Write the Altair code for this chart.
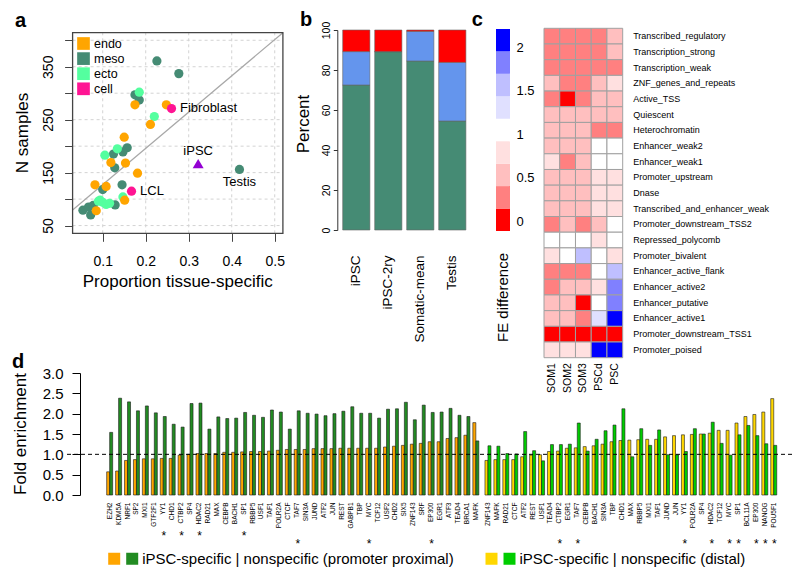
import json
import altair as alt
import pandas as pd

W, H = 784, 562
FONT = "Liberation Sans"

# ---------------- panel a data ----------------
A_X_DOMAIN = [0.03, 0.519]
A_Y_DOMAIN = [35.4, 414.3]
A_X_TICKS = [0.1, 0.2, 0.3, 0.4, 0.5]
A_Y_TICKS = [50, 100, 150, 200, 250, 300, 350, 400]
A_Y_SHOWN = [50, 150, 250, 350]
GROUPS = ["endo", "meso", "ecto", "cell"]
GROUP_COLORS = ["#FFA500", "#458B74", "#54FF9F", "#FF1493"]
MESO_X = [0.226, 0.277, 0.175, 0.185, 0.125, 0.157, 0.147, 0.128, 0.418, 0.100, 0.145, 0.129, 0.054, 0.072, 0.067, 0.078]
MESO_Y = [361, 337, 297, 287, 185, 197, 189, 159, 156, 118, 127, 89, 79, 70, 85, 88]
ECTO_X = [0.185, 0.220, 0.134, 0.105, 0.094, 0.108, 0.100, 0.147, 0.090, 0.116]
ECTO_Y = [302, 256, 195, 183, 98, 90, 94, 104, 96, 92]
ENDO_X = [0.248, 0.175, 0.211, 0.150, 0.119, 0.153, 0.181, 0.082, 0.108, 0.151, 0.085]
ENDO_Y = [278, 278, 241, 217, 169, 168, 149, 127, 124, 98, 78]
CELL_X = [0.260, 0.167]
CELL_Y = [271, 115]
IPSC_X = [0.322]
IPSC_Y = [167]
LABEL_RIGHT = ["Fibroblast", "LCL"]
LABEL_RIGHT_X = [0.260, 0.167]
LABEL_RIGHT_Y = [271, 115]
DIAG_INTERCEPT = 58.8
DIAG_SLOPE = 685.0

# ---------------- panel b data ----------------
B_SAMPLES = ["iPSC", "iPSC-2ry", "Somatic-mean", "Testis"]
B_PARTS = ["part1", "part2", "part3"]
B_COLORS = ["#458B74", "#6495ED", "#FF0000"]
B_PART1 = [72.5, 89.2, 84.5, 54.5]
B_PART2 = [16.7, 0.0, 14.8, 29.3]
B_PART3 = [10.8, 10.8, 0.7, 16.2]

# ---------------- panel c data ----------------
HEAT_ROWS = ["Transcribed_regulatory", "Transcription_strong", "Transcription_weak",
             "ZNF_genes_and_repeats", "Active_TSS", "Quiescent", "Heterochromatin",
             "Enhancer_weak2", "Enhancer_weak1", "Promoter_upstream", "Dnase",
             "Transcribed_and_enhancer_weak", "Promoter_downstream_TSS2", "Repressed_polycomb",
             "Promoter_bivalent", "Enhancer_active_flank", "Enhancer_active2", "Enhancer_putative",
             "Enhancer_active1", "Promoter_downstream_TSS1", "Promoter_poised"]
HEAT_COLS = ["SOM1", "SOM2", "SOM3", "PSCd", "PSC"]
SOM1 = [.25, .25, .25, .5, .25, .5, .5, .5, .75, .5, .5, .5, .25, 1, .75, .25, .25, .5, .5, 0, .75]
SOM2 = [.25, .25, .25, .25, 0, .5, .5, .5, .25, .5, .5, .5, .5, 1, 1, .25, .5, .5, .5, 0, .75]
SOM3 = [.25, .25, .25, .25, .25, .5, .5, .5, .5, .5, .5, .5, .25, 1, 1.5, .25, .5, 0, .25, 0, .75]
PSCD = [.25, .25, .25, .5, .5, .5, .25, 1, 1, .75, .75, .75, .5, .75, 1, 1, .75, 1, 1.25, 0, 2]
PSC = [.5, .5, .25, .75, .5, .5, .25, 1, 1, .75, .75, .75, 1, 1, .75, 1.5, 1.75, 1.75, 2, 0, 2]
HEAT_THRESH = [0.125, 0.375, 0.625, 0.875, 1.125, 1.375, 1.625, 1.875]
HEAT_COLORS = ["#FF0000", "#FF8080", "#FFBFBF", "#FFE0E0", "#FFFFFF",
               "#E0E0FF", "#BFBFFF", "#8080FF", "#0000FF"]
LEG_EDGES = [-0.115, 0.144, 0.403, 0.662, 0.921, 1.18, 1.439, 1.698, 1.957, 2.215]
LEG_LEVELS = [0, 0.25, 0.5, 0.75, 1, 1.25, 1.5, 1.75, 2]
LEG_TICKS = [0, 0.5, 1, 1.5, 2]

# ---------------- panel d data ----------------
PROX_TF = ["EZH2", "KDM5A", "NRF1", "SP2", "MXI1", "GTF2F1", "YY1", "CHD1", "CTBP2", "SP4",
           "HDAC2", "RAD21", "MAX", "CEBPB", "BACH1", "SP1", "RBBP5", "USF1", "TAF1", "POLR2A",
           "CTCF", "TAF7", "SIN3A", "JUND", "ATF2", "JUN", "REST", "GABPB1", "TBP", "MYC",
           "TCF12", "USF2", "CHD2", "SIX5", "ZNF143", "SRF", "EP300", "EGR1", "ATF3", "TEAD4",
           "BRCA1", "MAFK"]
PROX_SPEC = [0.57, 0.59, 0.85, 0.87, 0.89, 0.89, 0.90, 0.90, 0.98, 1.00, 1.02, 1.02, 1.02, 1.05,
             1.05, 1.06, 1.07, 1.07, 1.08, 1.10, 1.12, 1.12, 1.12, 1.14, 1.14, 1.14, 1.15, 1.15,
             1.15, 1.15, 1.15, 1.18, 1.20, 1.22, 1.25, 1.27, 1.31, 1.31, 1.39, 1.41, 1.47, 1.78]
PROX_NON = [1.54, 2.38, 2.29, 2.07, 2.19, 2.02, 1.93, 1.74, 1.67, 2.25, 2.26, 1.62, 1.92, 1.88,
            1.89, 2.03, 1.96, 1.91, 2.09, 2.04, 1.62, 2.07, 2.01, 1.99, 1.95, 2.00, 2.06, 2.17,
            2.01, 2.01, 1.89, 2.11, 2.12, 2.28, 1.85, 2.21, 2.03, 2.04, 2.13, 1.96, 1.93, 1.33]
PROX_STAR_A = ["YY1", "CTBP2", "HDAC2", "SP1"]
PROX_STAR_B = ["TAF7", "MYC", "EP300"]
DIST_TF = ["ZNF143", "MAFK", "RAD21", "CTCF", "ATF2", "REST", "USF1", "TEAD4", "CTBP2", "EGR1",
           "TAF7", "CEBPB", "BACH1", "SIN3A", "TBP", "CHD1", "MAX", "RBBP5", "MXI1", "TAF1",
           "JUND", "JUN", "YY1", "POLR2A", "SP4", "HDAC2", "TCF12", "MYC", "SP1", "BCL11A",
           "EP300", "NANOG", "POU5F1"]
DIST_SPEC = [0.85, 0.87, 0.87, 0.87, 0.94, 0.98, 0.99, 1.07, 1.08, 1.15, 1.16, 1.19, 1.21, 1.25,
             1.31, 1.34, 1.35, 1.36, 1.37, 1.37, 1.43, 1.46, 1.48, 1.49, 1.50, 1.52, 1.59, 1.59,
             1.77, 1.93, 1.98, 2.04, 2.37]
DIST_NON = [1.21, 1.20, 1.02, 1.01, 1.56, 1.09, 0.84, 1.24, 1.24, 1.25, 1.77, 1.08, 1.37, 1.58,
            1.72, 2.12, 0.94, 1.63, 1.22, 1.60, 0.99, 0.99, 1.07, 1.63, 1.50, 1.79, 1.27, 0.98,
            1.48, 1.71, 1.46, 1.26, 1.22]
DIST_STAR = ["CTBP2", "TAF7", "YY1", "HDAC2", "MYC", "SP1", "EP300", "NANOG", "POU5F1"]
D_Y_TICKS = [0, 0.5, 1, 1.5, 2, 2.5, 3]
D_REF = [1.0]
PROX_COLORS = ["#FFA500", "#228B22"]
DIST_COLORS = ["#FFD700", "#00CD00"]
PROX_LABEL = "iPSC-specific | nonspecific (promoter proximal)"
DIST_LABEL = "iPSC-specific | nonspecific (distal)"


# ---------------- scales (panel placement) ----------------
def AX():
    return alt.Scale(domain=A_X_DOMAIN, range=[64.6, 274.9], nice=False, zero=False)


def AY():
    return alt.Scale(domain=A_Y_DOMAIN, range=[225.3, 24.7], nice=False, zero=False)


def BX():
    return alt.Scale(domain=B_SAMPLES, range=[334.7, 457.9], paddingInner=0.15, paddingOuter=0)


def BY():
    return alt.Scale(domain=[0, 100], range=[222, 22], nice=False, zero=False)


def CX():
    return alt.Scale(domain=HEAT_COLS, range=[536, 614.7], paddingInner=0, paddingOuter=0)


def CY():
    return alt.Scale(domain=HEAT_ROWS, range=[20.3, 349.7], paddingInner=0, paddingOuter=0)


def CLY():
    return alt.Scale(domain=[LEG_EDGES[0], LEG_EDGES[-1]], range=[223, 21], nice=False, zero=False)


def HEATC():
    return alt.Scale(type="threshold", domain=HEAT_THRESH, range=HEAT_COLORS)


def DY():
    return alt.Scale(domain=[0, 3], range=[487, 365], nice=False, zero=False)


def DXP():
    return alt.Scale(domain=PROX_TF, range=[97.2, 472.3], paddingInner=0.328, paddingOuter=0.164)


def DXD():
    return alt.Scale(domain=DIST_TF, range=[475.5, 770.2], paddingInner=0.328, paddingOuter=0.164)


def txt(s, x, y, size=15, angle=0, bold=False, align="center", baseline="middle"):
    kw = dict(font=FONT, fontSize=size, align=align, baseline=baseline, color="black")
    if angle:
        kw["angle"] = angle
    if bold:
        kw["fontWeight"] = "bold"
    return alt.Chart(pd.DataFrame({"t": [s]})).mark_text(**kw).encode(
        x=alt.value(x), y=alt.value(y), text="t:N")


layers = []

# ================= panel a =================
gx = pd.DataFrame({"v": A_X_TICKS, "lo": A_Y_DOMAIN[0], "hi": A_Y_DOMAIN[1]})
layers.append(alt.Chart(gx).mark_rule(color="#d3d3d3", strokeDash=[3, 3], strokeWidth=1).encode(
    x=alt.X("v:Q", scale=AX(), axis=None),
    y=alt.Y("lo:Q", scale=AY(), axis=None), y2="hi:Q"))
gy = pd.DataFrame({"v": A_Y_TICKS, "lo": A_X_DOMAIN[0], "hi": A_X_DOMAIN[1]})
layers.append(alt.Chart(gy).mark_rule(color="#d3d3d3", strokeDash=[3, 3], strokeWidth=1).encode(
    y=alt.Y("v:Q", scale=AY(), axis=None),
    x=alt.X("lo:Q", scale=AX(), axis=None), x2="hi:Q"))

diag = pd.DataFrame({"x": A_X_DOMAIN})
diag["y"] = DIAG_INTERCEPT + DIAG_SLOPE * diag["x"]
layers.append(alt.Chart(diag).mark_line(color="#a8a8a8", strokeWidth=1.2).encode(
    x=alt.X("x:Q", scale=AX(), axis=None), y=alt.Y("y:Q", scale=AY(), axis=None)))

pts = pd.concat([
    pd.DataFrame({"x": MESO_X, "y": MESO_Y, "g": "meso"}),
    pd.DataFrame({"x": ECTO_X, "y": ECTO_Y, "g": "ecto"}),
    pd.DataFrame({"x": ENDO_X, "y": ENDO_Y, "g": "endo"}),
    pd.DataFrame({"x": CELL_X, "y": CELL_Y, "g": "cell"}),
], ignore_index=True)
layers.append(alt.Chart(pts).mark_circle(size=85, opacity=1).encode(
    x=alt.X("x:Q", scale=AX(), axis=None),
    y=alt.Y("y:Q", scale=AY(), axis=None),
    color=alt.Color("g:N", scale=alt.Scale(domain=GROUPS, range=GROUP_COLORS),
                    legend=alt.Legend(orient="none", legendX=69, legendY=29, title=None,
                                      symbolType="square", symbolSize=161, symbolStrokeWidth=0,
                                      symbolOpacity=1, labelFontSize=12.5, labelFont=FONT,
                                      rowPadding=2.1, padding=0, labelOffset=4))))

ipsc = pd.DataFrame({"x": IPSC_X, "y": IPSC_Y, "t": ["iPSC"]})
layers.append(alt.Chart(ipsc).mark_point(shape="triangle-up", filled=True, size=120,
                                         color="#9400D3", opacity=1).encode(
    x=alt.X("x:Q", scale=AX(), axis=None), y=alt.Y("y:Q", scale=AY(), axis=None)))
layers.append(alt.Chart(ipsc).mark_text(font=FONT, fontSize=13, dy=-13).encode(
    x=alt.X("x:Q", scale=AX(), axis=None), y=alt.Y("y:Q", scale=AY(), axis=None), text="t:N"))

lr = pd.DataFrame({"x": LABEL_RIGHT_X, "y": LABEL_RIGHT_Y, "t": LABEL_RIGHT})
layers.append(alt.Chart(lr).mark_text(font=FONT, fontSize=13, align="left", dx=8.5, dy=-0.5).encode(
    x=alt.X("x:Q", scale=AX(), axis=None), y=alt.Y("y:Q", scale=AY(), axis=None), text="t:N"))

testis = pd.DataFrame({"x": [MESO_X[8]], "y": [MESO_Y[8]], "t": ["Testis"]})
layers.append(alt.Chart(testis).mark_text(font=FONT, fontSize=13, dy=13).encode(
    x=alt.X("x:Q", scale=AX(), axis=None), y=alt.Y("y:Q", scale=AY(), axis=None), text="t:N"))

box = pd.DataFrame({"x0": [A_X_DOMAIN[0]], "x1": [A_X_DOMAIN[1]],
                    "y0": [A_Y_DOMAIN[0]], "y1": [A_Y_DOMAIN[1]]})
y_expr = "indexof(%s, datum.value) >= 0 ? datum.label : ''" % json.dumps(A_Y_SHOWN)
layers.append(alt.Chart(box).mark_rect(fillOpacity=0, stroke="#444444", strokeWidth=1.3).encode(
    x=alt.X("x0:Q", scale=AX(),
            axis=alt.Axis(orient="bottom", offset=225.3 - H, values=A_X_TICKS, domain=False,
                          grid=False, tickSize=8, tickColor="#444444", labelFontSize=14,
                          labelFont=FONT, labelPadding=13, title=None, labelColor="black",
                          format="~g", labelFlush=False, labelOverlap=False)),
    x2="x1:Q",
    y=alt.Y("y0:Q", scale=AY(),
            axis=alt.Axis(orient="left", offset=-64.6, values=A_Y_TICKS, domain=False, grid=False,
                          tickSize=8, tickColor="#444444", labelFontSize=14, labelFont=FONT,
                          labelPadding=9, title=None, labelColor="black", labelAngle=270,
                          labelAlign="center", labelBaseline="bottom", labelExpr=y_expr,
                          labelFlush=False, labelOverlap=False)),
    y2="y1:Q"))

# ================= panel b =================
bdf = pd.concat([
    pd.DataFrame({"s": B_SAMPLES, "v": B_PART1, "p": B_PARTS[0], "o": 0}),
    pd.DataFrame({"s": B_SAMPLES, "v": B_PART2, "p": B_PARTS[1], "o": 1}),
    pd.DataFrame({"s": B_SAMPLES, "v": B_PART3, "p": B_PARTS[2], "o": 2}),
], ignore_index=True)
layers.append(alt.Chart(bdf).mark_bar(stroke="#666666", strokeWidth=0.6).encode(
    x=alt.X("s:N", scale=BX(), sort=B_SAMPLES,
            axis=alt.Axis(orient="bottom", offset=222 - H, labelAngle=270, labelAlign="right",
                          labelBaseline="middle", ticks=False, domain=False, labelPadding=25,
                          labelFontSize=13.5, labelFont=FONT, title=None, labelColor="black",
                          labelOverlap=False)),
    y=alt.Y("v:Q", stack="zero", scale=BY(),
            axis=alt.Axis(orient="left", offset=-329.3, values=[0, 20, 40, 60, 80, 100],
                          tickSize=4, labelAngle=270, labelAlign="center", labelBaseline="bottom",
                          labelPadding=2, labelFontSize=10.5, labelFont=FONT, domainColor="#333333",
                          tickColor="#333333", title=None, grid=False, labelColor="black",
                          labelFlush=False, labelOverlap=False)),
    order=alt.Order("o:Q"),
    color=alt.Color("p:N", scale=alt.Scale(domain=B_PARTS, range=B_COLORS), legend=None)))

# ================= panel c =================
hdf = pd.concat([pd.DataFrame({"r": HEAT_ROWS, "c": c, "v": vals})
                 for c, vals in zip(HEAT_COLS, [SOM1, SOM2, SOM3, PSCD, PSC])], ignore_index=True)
layers.append(alt.Chart(hdf).mark_rect(stroke="#a0a0a0", strokeWidth=1).encode(
    x=alt.X("c:N", scale=CX(), sort=HEAT_COLS,
            axis=alt.Axis(orient="bottom", offset=349.7 - H, labelAngle=270, labelAlign="right",
                          labelBaseline="middle", ticks=False, domain=False, labelPadding=5,
                          labelFontSize=10.5, labelFont=FONT, title=None, labelColor="black",
                          labelOverlap=False)),
    y=alt.Y("r:N", scale=CY(), sort=HEAT_ROWS,
            axis=alt.Axis(orient="right", offset=614.7 - W, ticks=False, domain=False,
                          labelPadding=10, labelFontSize=9, labelFont=FONT, title=None,
                          labelColor="black", labelOverlap=False, labelAlign="left")),
    color=alt.Color("v:Q", scale=HEATC(), legend=None)))

ldf = pd.DataFrame({"lo": LEG_EDGES[:-1], "hi": LEG_EDGES[1:], "v": LEG_LEVELS})
layers.append(alt.Chart(ldf).mark_rect().encode(
    x=alt.value(488), x2=alt.value(502),
    y=alt.Y("lo:Q", scale=CLY(),
            axis=alt.Axis(orient="right", offset=502 - W, values=LEG_TICKS, format="~g",
                          ticks=False, domain=False, labelPadding=6, labelFontSize=13,
                          labelFont=FONT, labelBaseline="middle", title=None, grid=False,
                          labelColor="black", labelFlush=False, labelOverlap=False)),
    y2="hi:Q",
    color=alt.Color("v:Q", scale=HEATC(), legend=None)))

# ================= panel d =================
pdf = pd.concat([pd.DataFrame({"tf": PROX_TF, "k": "s", "v": PROX_SPEC}),
                 pd.DataFrame({"tf": PROX_TF, "k": "n", "v": PROX_NON})], ignore_index=True)
ddf = pd.concat([pd.DataFrame({"tf": DIST_TF, "k": "s", "v": DIST_SPEC}),
                 pd.DataFrame({"tf": DIST_TF, "k": "n", "v": DIST_NON})], ignore_index=True)


def lab_axis():
    return alt.Axis(orient="bottom", offset=487 - H, labelAngle=270, labelAlign="right",
                    labelBaseline="middle", labelPadding=7, labelFontSize=6.5, labelFont=FONT,
                    ticks=False, domain=False, title=None, labelOverlap=False, labelColor="black")


def d_legend(x, label):
    return alt.Legend(orient="none", legendX=x, legendY=543, direction="horizontal", title=None,
                      symbolType="square", symbolSize=144, symbolStrokeWidth=0, symbolOpacity=1,
                      labelFontSize=15, labelFont=FONT, labelOffset=2.5, columnPadding=-5.6,
                      labelLimit=0, padding=0,
                      labelExpr="datum.value == 'n' ? '%s' : ''" % label)


layers.append(alt.Chart(pdf).mark_bar(stroke="#1a1a1a", strokeWidth=0.6).encode(
    x=alt.X("tf:N", scale=DXP(), sort=PROX_TF, axis=lab_axis()),
    xOffset=alt.XOffset("k:N", scale=alt.Scale(domain=["s", "n"], paddingInner=0, paddingOuter=0),
                        sort=["s", "n"]),
    y=alt.Y("v:Q", scale=DY(),
            axis=alt.Axis(orient="left", offset=-72, values=D_Y_TICKS, format=".1f", tickSize=8,
                          labelPadding=9, labelFontSize=15, labelFont=FONT, domainColor="black",
                          tickColor="black", title=None, grid=False, labelColor="black",
                          labelFlush=False, labelOverlap=False)),
    color=alt.Color("k:N", scale=alt.Scale(domain=["s", "n"], range=PROX_COLORS),
                    legend=d_legend(98.7, PROX_LABEL))))

layers.append(alt.Chart(ddf).mark_bar(stroke="#1a1a1a", strokeWidth=0.6).encode(
    x=alt.X("tf:N", scale=DXD(), sort=DIST_TF, axis=lab_axis()),
    xOffset=alt.XOffset("k:N", scale=alt.Scale(domain=["s", "n"], paddingInner=0, paddingOuter=0),
                        sort=["s", "n"]),
    y=alt.Y("v:Q", scale=DY(), axis=None),
    color=alt.Color("k:N", scale=alt.Scale(domain=["s", "n"], range=DIST_COLORS),
                    legend=d_legend(476, DIST_LABEL))))


def star_layer(tfs, scale, starred, pad):
    expr = "indexof(%s, datum.value) >= 0 ? '*' : ''" % json.dumps(starred)
    return alt.Chart(pd.DataFrame({"tf": tfs})).mark_point(opacity=0).encode(
        x=alt.X("tf:N", scale=scale, sort=tfs,
                axis=alt.Axis(orient="bottom", offset=487 - H, labelAngle=0, labelAlign="center",
                              labelBaseline="middle", labelPadding=pad, labelFontSize=12,
                              labelFont=FONT, ticks=False, domain=False, title=None,
                              labelOverlap=False, labelColor="black", labelExpr=expr)))


layers.append(star_layer(PROX_TF, DXP(), PROX_STAR_A, 40))
layers.append(star_layer(PROX_TF, DXP(), PROX_STAR_B, 48))
layers.append(star_layer(DIST_TF, DXD(), DIST_STAR, 48))

layers.append(alt.Chart(pd.DataFrame({"v": D_REF})).mark_rule(
    color="black", strokeDash=[4, 3], strokeWidth=1).encode(
    y=alt.Y("v:Q", scale=DY(), axis=None), x=alt.value(59), x2=alt.value(789)))

# ================= titles and panel letters =================
layers += [
    txt("N samples", 14.5, 125, size=17, angle=270),
    txt("Proportion tissue-specific", 169.7, 279, size=17, baseline="alphabetic"),
    txt("Percent", 296, 116, size=17, angle=270),
    txt("FE difference", 495.3, 289.5, size=15, angle=270),
    txt("Fold enrichment", 13, 426, size=17, angle=270),
    txt("a", 7, 18.7, size=20, bold=True, align="left", baseline="alphabetic"),
    txt("b", 292, 18, size=20, bold=True, align="left", baseline="alphabetic"),
    txt("c", 463.7, 18, size=20, bold=True, align="left", baseline="alphabetic"),
    txt("d", 4, 360, size=20, bold=True, align="left", baseline="alphabetic"),
]

chart = alt.layer(*layers).resolve_scale(
    x="independent", y="independent", color="independent", xOffset="independent"
).resolve_axis(x="independent", y="independent").resolve_legend(color="independent").properties(
    width=W, height=H, autosize=alt.AutoSizeParams(type="none"), padding=0
).configure_view(stroke=None)

chart.save("out.html", embed_options={"renderer": "svg", "actions": False})
